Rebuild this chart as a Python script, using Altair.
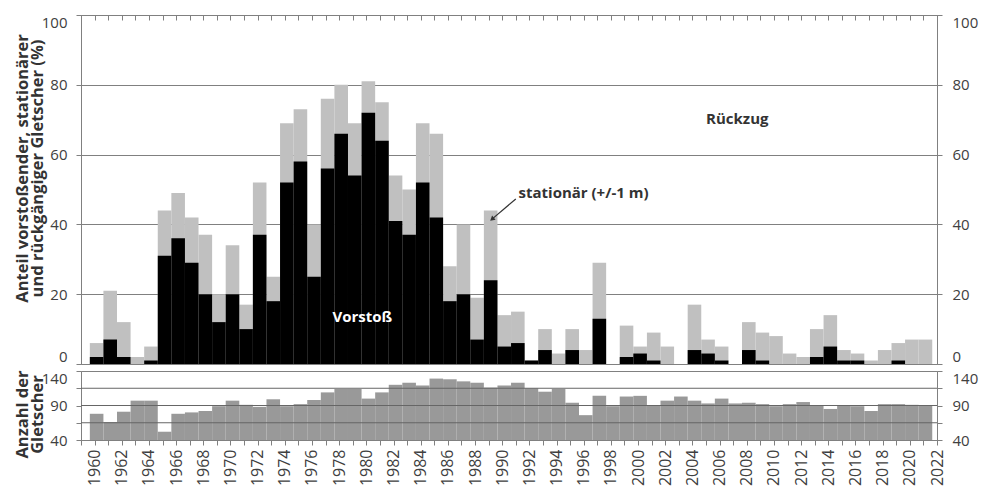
import altair as alt
import pandas as pd

years = list(range(1960, 2022))
vorstoss = [2, 7, 2, 0, 1, 31, 36, 29, 20, 12,
            20, 10, 37, 18, 52, 58, 25, 56, 66, 54,
            72, 64, 41, 37, 52, 42, 18, 20, 7, 24,
            5, 6, 1, 4, 0, 4, 0, 13, 0, 2,
            3, 1, 0, 0, 4, 3, 1, 0, 4, 1,
            0, 0, 0, 2, 5, 1, 1, 0, 0, 1,
            0, 0]
stationaer = [4, 14, 10, 2, 4, 13, 13, 13, 17, 8,
              14, 7, 15, 7, 17, 15, 15, 20, 14, 15,
              9, 11, 13, 13, 17, 24, 10, 20, 12, 20,
              9, 9, 0, 6, 3, 6, 4, 16, 0, 9,
              2, 8, 5, 0, 13, 4, 4, 0, 8, 8,
              8, 3, 2, 8, 9, 3, 2, 1, 4, 5,
              7, 7]
anzahl = [78, 66, 81, 97, 97, 52, 78, 80, 82, 89,
          97, 91, 88, 99, 89, 92, 98, 109, 114, 114,
          100, 109, 120, 123, 119, 129, 128, 125, 123, 116,
          119, 123, 115, 110, 114, 94, 76, 104, 89, 103,
          104, 90, 97, 103, 97, 93, 100, 93, 94, 92,
          89, 92, 95, 90, 85, 90, 89, 82, 92, 92,
          91, 90]

tick_years = list(range(1959, 2023))
pct_ticks = [0, 20, 40, 60, 80, 100]
count_ticks = [40, 65, 90, 115, 140]
count_grid = [65, 90, 115]

ann_text = ["Rückzug", "Vorstoß"]
ann_x = [2007.3, 1979.7]
ann_y = [70.2, 13.5]
ann_color = ["#333333", "#ffffff"]
stat_label = ["stationär (+/-1 m)"]
stat_x = [1991.2]
stat_y = [49.0]
arrow_x = [1991.0]
arrow_y = [47.3]
arrow_x2 = [1989.25]
arrow_y2 = [41.5]

df = pd.DataFrame({"Jahr": years, "Vorstoss": vorstoss,
                   "Stationaer": stationaer, "Anzahl": anzahl})
df_ann = pd.DataFrame({"t": ann_text, "x": ann_x, "y": ann_y, "c": ann_color})
df_stat = pd.DataFrame({"t": stat_label, "x": stat_x, "y": stat_y})
df_arrow = pd.DataFrame({"x": arrow_x, "y": arrow_y, "x2": arrow_x2, "y2": arrow_y2})
df_grid = pd.DataFrame({"v": count_grid})

W, H1, H2 = 856, 349, 69
FONT = "Open Sans"
TXT = "#404040"
AX = "#808080"

xs = alt.Scale(domain=[1959, 2022], nice=False, zero=False)
ys1 = alt.Scale(domain=[0, 100], nice=False)
ys2 = alt.Scale(domain=[40, 140], nice=False, zero=False)

base = alt.Chart(df).transform_calculate(
    x0="datum.Jahr - 0.35", x1="datum.Jahr + 0.65",
    total="datum.Vorstoss + datum.Stationaer")

left1 = alt.Axis(values=pct_ticks, grid=True, gridColor=AX, labelFlush=True,
                 title=["Anteil vorstoßender, stationärer", "und rückgängiger Gletscher (%)"],
                 titleAngle=270, titleX=-59, titleY=153, titleAlign="center",
                 titleBaseline="middle", titleLineHeight=15.5, titleFontSize=16.5,
                 titleFontWeight="bold", titleColor="#333333", titleFont=FONT,
                 labelPadding=9, orient="left")
right1 = alt.Axis(values=pct_ticks, grid=False, labelFlush=True, title=None,
                  labelPadding=10, orient="right")
topx = alt.Axis(values=tick_years, orient="top", offset=-5, domain=False,
                labels=False, ticks=True, tickSize=5, grid=False, title=None)

gray = base.mark_bar(color="#c0c0c0").encode(
    x=alt.X("x0:Q", scale=xs, axis=topx), x2="x1:Q",
    y=alt.Y("total:Q", scale=ys1, axis=left1), y2=alt.datum(0))
black = base.mark_bar(color="#000000").encode(
    x=alt.X("x0:Q", scale=xs, axis=None), x2="x1:Q",
    y=alt.Y("Vorstoss:Q", scale=ys1, axis=right1), y2=alt.datum(0))
ann = alt.Chart(df_ann).mark_text(font=FONT, fontSize=15, fontWeight="bold").encode(
    x=alt.X("x:Q", scale=xs, axis=None), y=alt.Y("y:Q", scale=ys1, axis=None),
    text="t:N", color=alt.Color("c:N", scale=None))
stat = alt.Chart(df_stat).mark_text(font=FONT, fontSize=15, fontWeight="bold",
                                    align="left", color="#333333").encode(
    x=alt.X("x:Q", scale=xs, axis=None), y=alt.Y("y:Q", scale=ys1, axis=None), text="t:N")
arrow = alt.Chart(df_arrow).mark_rule(color="#333333", strokeWidth=1.2).encode(
    x=alt.X("x:Q", scale=xs, axis=None), y=alt.Y("y:Q", scale=ys1, axis=None),
    x2="x2:Q", y2="y2:Q")
head = alt.Chart(df_arrow).mark_point(shape="triangle-up", filled=True, size=30,
                                      angle=230, color="#333333", opacity=1).encode(
    x=alt.X("x2:Q", scale=xs, axis=None), y=alt.Y("y2:Q", scale=ys1, axis=None))

top = alt.layer(gray, black, ann, stat, arrow, head).resolve_axis(
    x="independent", y="independent").properties(width=W, height=H1)

left2 = alt.Axis(values=count_ticks, grid=False, orient="left",
                 labelExpr="(datum.value == 65 || datum.value == 115) ? '' : datum.label",
                 labelBaseline=alt.condition("datum.value == 140", alt.value("top"), alt.value("middle")),
                 title=["Anzahl der", "Gletscher"], titleAngle=270, titleX=-59, titleY=43,
                 titleAlign="center", titleBaseline="middle", titleLineHeight=15.5,
                 titleFontSize=16.5, titleFontWeight="bold", titleColor="#333333",
                 titleFont=FONT, labelPadding=9)
right2 = alt.Axis(values=count_ticks, grid=False, orient="right",
                  labelExpr="(datum.value == 65 || datum.value == 115) ? '' : datum.label",
                  labelBaseline=alt.condition("datum.value == 140", alt.value("top"), alt.value("middle")),
                  title=None, labelPadding=10)
botx = alt.Axis(values=tick_years, orient="bottom", format="d",
                labelExpr="datum.value % 2 == 0 ? datum.label : ''",
                labelAngle=270, labelFontSize=16, labelPadding=4, grid=False,
                title=None, tickSize=5)

bars2 = base.mark_bar(color="#999999").encode(
    x=alt.X("x0:Q", scale=xs, axis=botx), x2="x1:Q",
    y=alt.Y("Anzahl:Q", scale=ys2, axis=left2), y2=alt.datum(40))
grid2 = alt.Chart(df_grid).mark_rule(color="#666666", strokeWidth=1).encode(
    y=alt.Y("v:Q", scale=ys2, axis=right2))

bottom = alt.layer(bars2, grid2).resolve_axis(
    x="independent", y="independent").properties(width=W, height=H2)

chart = alt.vconcat(top, bottom, spacing=7, bounds="flush").properties(
    padding={"left": 5, "top": 6, "right": 5, "bottom": 2}
).configure_view(stroke=AX, strokeWidth=1).configure_axis(
    labelFont=FONT, labelFontSize=15, labelColor=TXT, domainColor=AX,
    tickColor=AX, tickSize=5
)

chart.save("out.html", embed_options={"renderer": "svg", "actions": False})
